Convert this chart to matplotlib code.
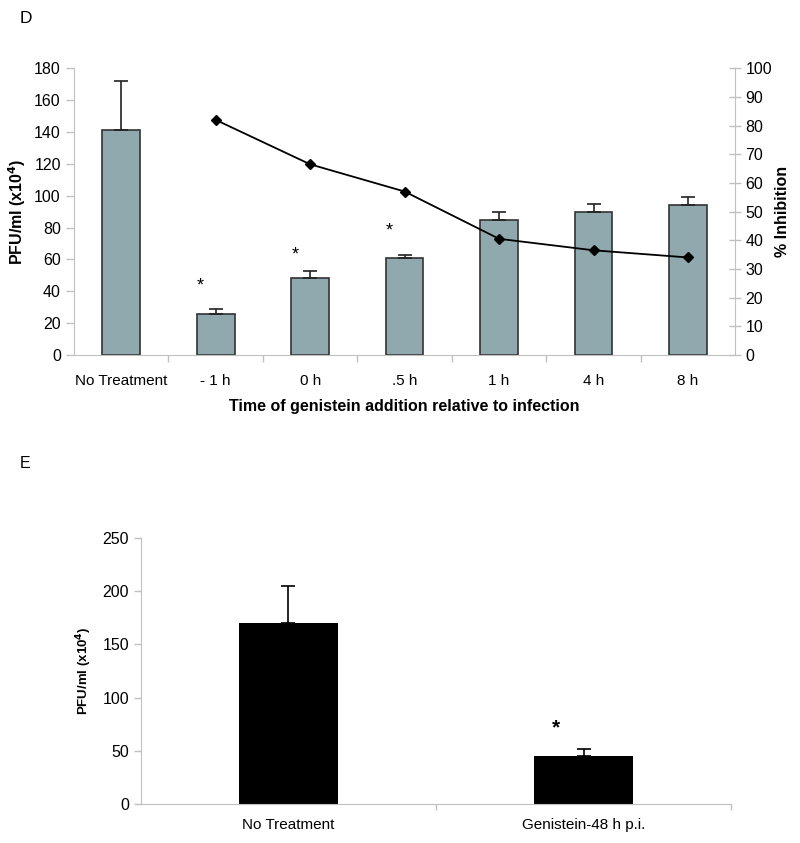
import numpy as np
import matplotlib
matplotlib.use('Agg')
import matplotlib.pyplot as plt

plt.rcParams['font.family'] = ['Liberation Sans', 'DejaVu Sans']

# panel D data
times = ['No Treatment', '- 1 h', '0 h', '.5 h', '1 h', '4 h', '8 h']
pfu = [141, 26, 48, 61, 85, 90, 94]
pfu_err = [31, 3, 4.5, 2, 5, 5, 5]
inhibition = [82, 66.5, 57, 40.5, 36.5, 34]   # from '- 1 h' onward
star_d = [1, 2, 3]
star_d_y = [43, 62.5, 78]

# panel E data
groups = ['No Treatment', 'Genistein-48 h p.i.']
pfu_e = [170, 45]
pfu_e_err = [35, 7]
star_e_y = 71

grey = '#8fa9ae'
axcol = '#c0c0c0'

fig = plt.figure(figsize=(8, 8.43), dpi=100)

#==============================================================================
# panel D
#==============================================================================
ax = fig.add_axes([0.0925, 0.579, 0.8265, 0.340])
x = np.arange(len(times))
ax.bar(x, pfu, width=0.4, color=grey, edgecolor='#333333', linewidth=1.2, zorder=2)
ax.errorbar(x, pfu, yerr=[np.zeros(len(pfu)), pfu_err], fmt='none', ecolor='#222222',
            elinewidth=1.2, capsize=5, capthick=1.2, zorder=3)
ax.set_xlim(-0.5, len(times) - 0.5)
ax.set_ylim(0, 180)
ax.set_yticks(range(0, 181, 20))
ax.set_xticks(x)
ax.set_xticklabels(times)
ax.set_xticks(np.arange(0.5, len(times) - 1, 1), minor=True)
ax.tick_params(axis='x', which='major', length=0, labelsize=11, pad=14)
ax.tick_params(axis='x', which='minor', length=5, color=axcol, width=1)
ax.tick_params(axis='y', length=6, color=axcol, labelsize=11.5, width=1)
for s in ['top', 'right']:
    ax.spines[s].set_visible(False)
for s in ['left', 'bottom']:
    ax.spines[s].set_color(axcol)
ax.set_ylabel('PFU/ml (x10$^{\\mathbf{4}}$)', fontsize=11.5, fontweight='bold', labelpad=4)
ax.set_xlabel('Time of genistein addition relative to infection', fontsize=11.5,
              fontweight='bold', labelpad=8)
for i, yy in zip(star_d, star_d_y):
    ax.text(i - 0.16, yy, '*', ha='center', va='center', fontsize=13)

ax2 = ax.twinx()
ax2.plot(x[1:], inhibition, color='black', linewidth=1.3, marker='D',
         markersize=5.5, zorder=4)
ax2.set_ylim(0, 100)
ax2.set_yticks(range(0, 101, 10))
ax2.tick_params(axis='y', length=8, direction='inout', color=axcol, labelsize=11.5, width=1)
for s in ['top', 'left', 'bottom']:
    ax2.spines[s].set_visible(False)
ax2.spines['right'].set_color(axcol)
ax2.set_ylabel('% Inhibition', fontsize=11.5, fontweight='bold', labelpad=2)

fig.text(0.025, 0.978, 'D', fontsize=12.5, va='center')

#==============================================================================
# panel E
#==============================================================================
bx = fig.add_axes([0.176, 0.0463, 0.738, 0.3157])
xe = np.arange(len(groups))
bx.bar(xe, pfu_e, width=0.335, color='black', zorder=2)
bx.errorbar(xe, pfu_e, yerr=[np.zeros(len(pfu_e)), pfu_e_err], fmt='none', ecolor='black',
            elinewidth=1.2, capsize=5, capthick=1.2, zorder=3)
bx.set_xlim(-0.5, 1.5)
bx.set_ylim(0, 250)
bx.set_yticks(range(0, 251, 50))
bx.set_xticks(xe)
bx.set_xticklabels(groups)
bx.set_xticks([0.5, 1.5], minor=True)
bx.tick_params(axis='x', which='major', length=0, labelsize=11, pad=10)
bx.tick_params(axis='x', which='minor', length=4, color=axcol, width=1)
bx.tick_params(axis='y', length=5, color=axcol, labelsize=11.5, width=1)
for s in ['top', 'right']:
    bx.spines[s].set_visible(False)
for s in ['left', 'bottom']:
    bx.spines[s].set_color(axcol)
bx.set_ylabel('PFU/ml (x10$^{\\mathbf{4}}$)', fontsize=9.5, fontweight='bold', labelpad=6)
bx.text(1 - 0.095, star_e_y, '*', ha='center', va='center', fontsize=15, fontweight='bold')

fig.text(0.025, 0.45, 'E', fontsize=11.5, va='center')

fig.savefig('out.png', dpi=100)
